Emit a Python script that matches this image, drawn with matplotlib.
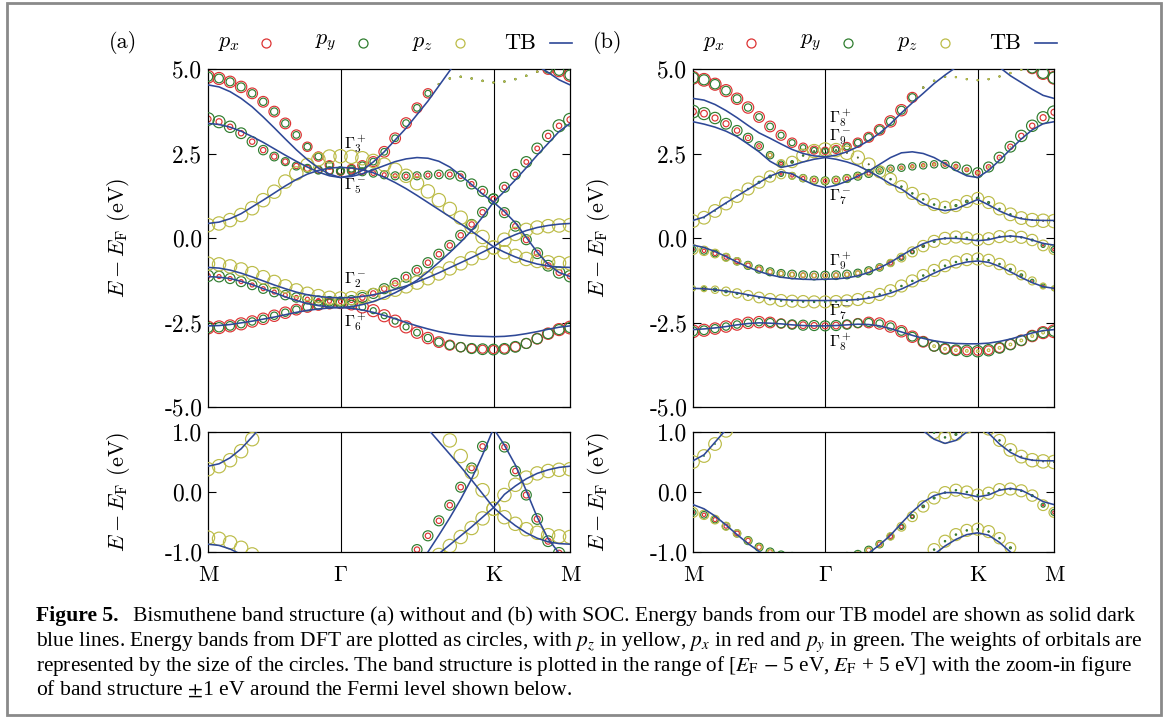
import numpy as np
import matplotlib
matplotlib.use("Agg")
import matplotlib.pyplot as plt
from matplotlib.lines import Line2D
from matplotlib.patches import Rectangle

plt.rcParams["font.family"] = "cmr10"
plt.rcParams["mathtext.fontset"] = "cm"
plt.rcParams["axes.unicode_minus"] = False
plt.rcParams["axes.formatter.use_mathtext"] = True

# k-path M - Gamma - K - M in units of |Gamma M|, sampled with 12 + 14 + 7 steps
k_nodes = [0.0, 1.0, 1.0 + 2 / np.sqrt(3), 1.0 + np.sqrt(3)]
kpts = np.concatenate([np.linspace(k_nodes[0], k_nodes[1], 13),
                       np.linspace(k_nodes[1], k_nodes[2], 15)[1:],
                       np.linspace(k_nodes[2], k_nodes[3], 8)[1:]])
k_labels = ["M", r"$\Gamma$", "K", "M"]

yticks_top = [-5.0, -2.5, 0.0, 2.5, 5.0]
ytick_labels_top = ["-5.0", "-2.5", "0.0", "2.5", "5.0"]
yticks_bot = [-1.0, 0.0, 1.0]
ytick_labels_bot = ["-1.0", "0.0", "1.0"]

# ---------------- (a) without SOC ----------------
tb_a1 = [4.53, 4.47, 4.33, 4.13, 3.88, 3.58, 3.26, 2.93, 2.61, 2.32, 2.07, 1.89, 1.79,
         1.85, 2.0, 2.25, 2.55, 2.9, 3.25, 3.65, 4.05, 4.5, 4.95, 5.4, 5.6, 5.75, 5.8,
         5.7, 5.55, 5.35, 5.1, 4.9, 4.68, 4.53]
tb_a2 = [3.39, 3.36, 3.28, 3.16, 3.0, 2.83, 2.64, 2.45, 2.27, 2.1, 1.95, 1.84, 1.79,
         1.82, 1.9, 2.02, 2.14, 2.26, 2.34, 2.38, 2.36, 2.27, 2.1, 1.85, 1.58, 1.3, 1.06,
         1.38, 1.72, 2.08, 2.45, 2.8, 3.15, 3.39]
tb_a3 = [0.43, 0.47, 0.57, 0.72, 0.92, 1.12, 1.33, 1.54, 1.73, 1.89, 2.0, 2.07, 2.09,
         2.07, 2.02, 1.93, 1.8, 1.64, 1.46, 1.26, 1.05, 0.84, 0.63, 0.42, 0.2, -0.03, -0.26,
         -0.04, 0.1, 0.22, 0.31, 0.37, 0.41, 0.43]
tb_a4 = [-0.87, -0.89, -0.95, -1.04, -1.15, -1.27, -1.39, -1.5, -1.6, -1.68, -1.73, -1.76, -1.77,
         -1.76, -1.73, -1.68, -1.61, -1.52, -1.42, -1.3, -1.17, -1.03, -0.88, -0.73, -0.58, -0.42, -0.26,
         -0.42, -0.56, -0.68, -0.77, -0.83, -0.86, -0.87]
tb_a5 = [-1.14, -1.16, -1.2, -1.28, -1.38, -1.5, -1.62, -1.74, -1.85, -1.94, -2.0, -2.04, -2.06,
         -2.03, -1.97, -1.88, -1.76, -1.62, -1.45, -1.25, -1.0, -0.72, -0.43, -0.12, 0.22, 0.62, 1.06,
         0.78, 0.45, 0.02, -0.42, -0.78, -1.02, -1.14]
tb_a6 = [-2.6, -2.59, -2.56, -2.51, -2.46, -2.4, -2.34, -2.27, -2.2, -2.14, -2.1, -2.07, -2.06,
         -2.08, -2.13, -2.2, -2.29, -2.39, -2.5, -2.6, -2.69, -2.77, -2.83, -2.87, -2.9, -2.91, -2.92,
         -2.91, -2.88, -2.83, -2.77, -2.7, -2.64, -2.6]

dft_a1 = [4.77, 4.72, 4.62, 4.47, 4.28, 4.03, 3.74, 3.39, 3.05, 2.7, 2.41, 2.16, 1.97,
          2.05, 2.15, 2.26, 2.55, 2.95, 3.4, 3.85, 4.28, 4.55, 4.72, 4.77, 4.72, 4.65, 4.6,
          4.63, 4.7, 4.8, 4.92, 5.0, 4.95, 4.82]
dft_a2 = [3.52, 3.44, 3.29, 3.1, 2.85, 2.6, 2.41, 2.26, 2.13, 2.06, 2.01, 1.99, 1.99,
          1.98, 1.96, 1.92, 1.87, 1.84, 1.83, 1.84, 1.86, 1.88, 1.88, 1.83, 1.6, 1.38, 1.16,
          1.5, 1.88, 2.25, 2.65, 3.02, 3.32, 3.5]
dft_a3 = [0.38, 0.43, 0.53, 0.68, 0.88, 1.12, 1.37, 1.67, 1.91, 2.16, 2.33, 2.41, 2.42,
          2.4, 2.36, 2.28, 2.17, 2.02, 1.84, 1.62, 1.38, 1.12, 0.86, 0.6, 0.33, 0.03, -0.28,
          -0.05, 0.12, 0.24, 0.31, 0.35, 0.37, 0.38]
dft_a4 = [-0.76, -0.78, -0.84, -0.93, -1.04, -1.16, -1.3, -1.43, -1.55, -1.65, -1.72, -1.77, -1.79,
          -1.78, -1.75, -1.69, -1.62, -1.53, -1.43, -1.32, -1.19, -1.05, -0.9, -0.75, -0.6, -0.44, -0.28,
          -0.42, -0.53, -0.62, -0.68, -0.72, -0.74, -0.75]
dft_a5 = [-1.12, -1.14, -1.2, -1.29, -1.39, -1.5, -1.6, -1.69, -1.76, -1.81, -1.85, -1.87, -1.88,
          -1.84, -1.76, -1.64, -1.5, -1.34, -1.16, -0.96, -0.73, -0.48, -0.22, 0.08, 0.4, 0.76, 1.15,
          0.75, 0.35, -0.05, -0.45, -0.82, -1.02, -1.13]
dft_a6 = [-2.65, -2.64, -2.6, -2.54, -2.47, -2.39, -2.3, -2.21, -2.12, -2.04, -1.98, -1.94, -1.93,
          -1.96, -2.04, -2.15, -2.3, -2.46, -2.63, -2.8, -2.96, -3.08, -3.17, -3.23, -3.27, -3.29, -3.3,
          -3.28, -3.22, -3.12, -2.98, -2.83, -2.71, -2.65]

# orbital weights (px, py, pz) of the DFT bands, None = no weight
wx_a1 = [0.95, 0.9, 0.85, 0.85, 0.8, 0.8, 0.8, 0.8, 0.75, 0.7, 0.7, 0.65, 0.6,
         0.65, 0.7, 0.75, 0.8, 0.8, 0.8, 0.75, 0.7, 0.08, 0.05, 0.05, 0.05, 0.05, 0.05,
         0.05, 0.05, 0.05, 0.1, 0.8, 0.9, 0.95]
wy_a1 = [0.7, 0.65, 0.6, 0.6, 0.55, 0.55, 0.55, 0.55, 0.5, 0.5, 0.5, 0.5, 0.5,
         0.5, 0.5, 0.5, 0.5, 0.5, 0.5, 0.5, 0.45, 0.1, 0.1, 0.1, 0.1, 0.1, 0.1,
         0.1, 0.1, 0.1, 0.1, 0.6, 0.7, 0.75]
wz_a1 = [0, 0, 0, 0, 0, 0, 0, 0, 0, 0, 0, 0, 0,
         0, 0, 0, 0, 0, 0, 0, 0, 0.08, 0.08, 0.08, 0.08, 0.08, 0.08,
         0.08, 0.08, 0.08, 0.08, 0, 0, 0]
wx_a2 = [0.45, 0.45, 0.4, 0.4, 0.4, 0.4, 0.4, 0.4, 0.4, 0.45, 0.5, 0.5, 0.5,
         0.45, 0.4, 0.35, 0.3, 0.3, 0.3, 0.3, 0.3, 0.3, 0.35, 0.35, 0.35, 0.35, 0.35,
         0.35, 0.35, 0.35, 0.35, 0.4, 0.4, 0.45]
wy_a2 = [0.95, 0.9, 0.85, 0.8, 0.75, 0.7, 0.65, 0.6, 0.6, 0.6, 0.6, 0.6, 0.6,
         0.6, 0.6, 0.6, 0.6, 0.6, 0.6, 0.6, 0.6, 0.65, 0.7, 0.75, 0.75, 0.75, 0.75,
         0.75, 0.75, 0.8, 0.8, 0.85, 0.9, 0.95]
wz_a3 = [1.0, 1.0, 1.0, 1.0, 1.0, 1.0, 1.0, 1.0, 1.0, 1.0, 1.0, 1.0, 1.0,
         1.0, 1.0, 1.0, 1.0, 1.0, 1.0, 1.0, 1.0, 1.0, 1.0, 1.0, 1.0, 1.0, 1.0,
         1.0, 1.0, 1.0, 1.0, 1.0, 1.0, 1.0]
wz_a4 = [1.0, 1.0, 1.0, 1.0, 1.0, 1.0, 1.0, 1.0, 1.0, 1.0, 1.0, 1.0, 1.0,
         1.0, 1.0, 1.0, 1.0, 1.0, 1.0, 1.0, 1.0, 1.0, 1.0, 1.0, 1.0, 1.0, 1.0,
         1.0, 1.0, 1.0, 1.0, 1.0, 1.0, 1.0]
wx_a5 = [0.35, 0.3, 0.3, 0.3, 0.3, 0.3, 0.3, 0.3, 0.3, 0.3, 0.3, 0.3, 0.3,
         0.35, 0.4, 0.4, 0.4, 0.4, 0.4, 0.4, 0.4, 0.4, 0.4, 0.4, 0.4, 0.4, 0.4,
         0.4, 0.4, 0.45, 0.45, 0.45, 0.45, 0.4]
wy_a5 = [0.85, 0.8, 0.75, 0.75, 0.7, 0.7, 0.7, 0.7, 0.7, 0.7, 0.7, 0.7, 0.7,
         0.7, 0.75, 0.75, 0.75, 0.75, 0.75, 0.75, 0.75, 0.75, 0.75, 0.75, 0.75, 0.75, 0.75,
         0.75, 0.75, 0.75, 0.8, 0.8, 0.85, 0.85]
wx_a6 = [0.95, 0.95, 0.9, 0.9, 0.85, 0.85, 0.85, 0.85, 0.8, 0.8, 0.8, 0.8, 0.8,
         0.85, 0.9, 0.9, 0.9, 0.9, 0.9, 0.85, 0.85, 0.8, 0.75, 0.7, 0.65, 0.6, 0.6,
         0.65, 0.7, 0.75, 0.8, 0.85, 0.9, 0.95]
wy_a6 = [0.75, 0.7, 0.65, 0.6, 0.55, 0.55, 0.55, 0.55, 0.55, 0.6, 0.65, 0.7, 0.7,
         0.6, 0.5, 0.45, 0.45, 0.45, 0.45, 0.5, 0.55, 0.6, 0.65, 0.7, 0.75, 0.8, 0.8,
         0.8, 0.8, 0.75, 0.75, 0.75, 0.75, 0.75]

# ---------------- (b) with SOC ----------------
tb_b1 = [4.13, 4.08, 3.95, 3.77, 3.56, 3.33, 3.11, 2.95, 2.78, 2.62, 2.5, 2.43, 2.4,
         2.45, 2.55, 2.7, 2.88, 3.1, 3.38, 3.7, 4.0, 4.28, 4.57, 4.82, 5.05, 5.25, 5.35,
         5.25, 5.05, 4.8, 4.6, 4.4, 4.22, 4.13]
tb_b2 = [3.44, 3.37, 3.28, 3.16, 3.0, 2.78, 2.55, 2.27, 2.09, 2.15, 2.25, 2.33, 2.38,
         2.33, 2.25, 2.14, 1.98, 1.8, 1.6, 1.45, 1.22, 1.02, 0.88, 0.81, 0.86, 1.0, 1.14,
         0.98, 0.8, 0.66, 0.57, 0.53, 0.52, 0.52]
tb_b3 = [0.52, 0.62, 0.83, 1.04, 1.24, 1.44, 1.64, 1.83, 1.96, 1.9, 1.72, 1.57, 1.49,
         1.56, 1.68, 1.83, 1.98, 2.18, 2.38, 2.52, 2.55, 2.5, 2.38, 2.2, 2.0, 1.84, 1.79,
         2.0, 2.3, 2.62, 2.93, 3.2, 3.38, 3.44]
tb_b4 = [-0.21, -0.28, -0.4, -0.55, -0.71, -0.86, -0.99, -1.09, -1.16, -1.2, -1.22, -1.23, -1.22,
         -1.21, -1.18, -1.12, -1.02, -0.88, -0.72, -0.52, -0.33, -0.17, -0.06, -0.01, -0.01, -0.04, -0.08,
         -0.05, 0.03, 0.06, 0.03, -0.06, -0.16, -0.21]
tb_b5 = [-1.49, -1.5, -1.53, -1.57, -1.62, -1.68, -1.74, -1.79, -1.82, -1.84, -1.85, -1.85, -1.85,
         -1.85, -1.84, -1.82, -1.78, -1.72, -1.63, -1.51, -1.36, -1.2, -1.04, -0.9, -0.79, -0.71, -0.68,
         -0.72, -0.84, -1.0, -1.17, -1.32, -1.44, -1.49]
tb_b6 = [-2.71, -2.69, -2.66, -2.62, -2.57, -2.53, -2.51, -2.52, -2.54, -2.57, -2.59, -2.6, -2.6,
         -2.59, -2.57, -2.55, -2.56, -2.6, -2.68, -2.78, -2.88, -2.97, -3.04, -3.09, -3.12, -3.13, -3.13,
         -3.11, -3.06, -2.99, -2.9, -2.81, -2.74, -2.71]

dft_b1 = [4.74, 4.68, 4.55, 4.36, 4.12, 3.86, 3.58, 3.3, 3.04, 2.82, 2.68, 2.6, 2.58,
          2.62, 2.7, 2.82, 2.98, 3.2, 3.45, 3.78, 4.16, 4.45, 4.65, 4.77, 4.76, 4.7, 4.67,
          4.7, 4.78, 4.88, 4.98, 5.02, 4.88, 4.74]
dft_b2 = [3.74, 3.68, 3.55, 3.38, 3.18, 2.96, 2.72, 2.45, 2.2, 2.25, 2.44, 2.57, 2.62,
          2.6, 2.52, 2.38, 2.18, 1.96, 1.74, 1.52, 1.32, 1.14, 0.99, 0.91, 0.96, 1.08, 1.17,
          1.05, 0.86, 0.7, 0.59, 0.53, 0.51, 0.5]
dft_b3 = [0.5, 0.6, 0.8, 1.02, 1.24, 1.45, 1.65, 1.82, 1.89, 1.84, 1.77, 1.71, 1.69,
          1.71, 1.76, 1.83, 1.91, 2.0, 2.05, 2.08, 2.12, 2.15, 2.18, 2.18, 2.12, 2.02, 1.93,
          2.1, 2.38, 2.7, 3.02, 3.32, 3.56, 3.72]
dft_b4 = [-0.34, -0.38, -0.46, -0.57, -0.69, -0.81, -0.92, -1.0, -1.05, -1.08, -1.1, -1.11, -1.11,
          -1.1, -1.08, -1.04, -0.97, -0.87, -0.74, -0.58, -0.41, -0.24, -0.1, -0.01, 0.03, 0.0, -0.05,
          -0.02, 0.04, 0.05, 0.02, -0.06, -0.22, -0.34]
dft_b5 = [-1.49, -1.5, -1.53, -1.58, -1.64, -1.7, -1.76, -1.81, -1.85, -1.87, -1.88, -1.89, -1.89,
          -1.88, -1.86, -1.82, -1.76, -1.67, -1.56, -1.42, -1.27, -1.11, -0.96, -0.82, -0.71, -0.64, -0.62,
          -0.66, -0.77, -0.93, -1.1, -1.27, -1.42, -1.49]
dft_b6 = [-2.76, -2.73, -2.68, -2.62, -2.56, -2.51, -2.49, -2.5, -2.53, -2.56, -2.58, -2.59, -2.6,
          -2.59, -2.56, -2.52, -2.5, -2.53, -2.62, -2.76, -2.92, -3.07, -3.2, -3.28, -3.32, -3.34, -3.35,
          -3.32, -3.25, -3.15, -3.03, -2.9, -2.8, -2.76]

wx_b1 = [0.95, 0.95, 0.9, 0.9, 0.85, 0.85, 0.8, 0.8, 0.75, 0.7, 0.65, 0.6, 0.55,
         0.6, 0.65, 0.7, 0.75, 0.8, 0.85, 0.85, 0.75, 0.08, 0.05, 0.05, 0.05, 0.05, 0.05,
         0.05, 0.05, 0.05, 0.05, 0.8, 0.95, 0.95]
wy_b1 = [0.8, 0.75, 0.7, 0.65, 0.6, 0.55, 0.5, 0.5, 0.45, 0.45, 0.4, 0.4, 0.4,
         0.4, 0.45, 0.5, 0.55, 0.6, 0.6, 0.6, 0.55, 0.1, 0.1, 0.1, 0.08, 0.08, 0.08,
         0.08, 0.08, 0.08, 0.08, 0.7, 0.8, 0.85]
wz_b1 = [0, 0, 0, 0, 0, 0, 0, 0, 0, 0, 0, 0, 0,
         0, 0, 0, 0, 0, 0, 0, 0, 0.06, 0.08, 0.08, 0.08, 0.08, 0.08,
         0.08, 0.08, 0.08, 0.08, 0, 0, 0]
wx_b2 = [0.5, 0.5, 0.45, 0.45, 0.4, 0.4, 0.35, 0.3, 0.2, 0.1, 0.05, 0.05, 0.05,
         0.05, 0.05, 0.05, 0.05, 0.05, 0.05, 0.05, 0.05, 0.05, 0.05, 0.05, 0.05, 0.05, 0.05,
         0.05, 0.05, 0.05, 0.05, 0.05, 0.05, 0.05]
wy_b2 = [0.95, 0.9, 0.85, 0.8, 0.75, 0.7, 0.65, 0.55, 0.4, 0.2, 0.1, 0.05, 0.05,
         0.05, 0.05, 0.05, 0.05, 0.1, 0.1, 0.1, 0.1, 0.1, 0.1, 0.1, 0.15, 0.2, 0.2,
         0.15, 0.1, 0.1, 0.05, 0.05, 0.05, 0.05]
wz_b2 = [0, 0, 0, 0, 0, 0.05, 0.1, 0.3, 0.6, 0.85, 0.95, 1.0, 1.0,
         1.0, 1.0, 1.0, 0.95, 0.9, 0.9, 0.9, 0.9, 0.9, 0.9, 0.9, 0.9, 0.9, 0.9,
         0.9, 0.9, 0.95, 0.95, 1.0, 1.0, 1.0]
wx_b3 = [0, 0, 0, 0, 0, 0, 0.05, 0.1, 0.15, 0.2, 0.25, 0.25, 0.25,
         0.25, 0.25, 0.25, 0.25, 0.25, 0.25, 0.25, 0.25, 0.25, 0.25, 0.3, 0.3, 0.3, 0.35,
         0.35, 0.35, 0.4, 0.4, 0.4, 0.45, 0.45]
wy_b3 = [0.05, 0.05, 0.05, 0.05, 0.05, 0.1, 0.15, 0.2, 0.35, 0.5, 0.55, 0.6, 0.6,
         0.6, 0.6, 0.6, 0.6, 0.55, 0.55, 0.55, 0.55, 0.55, 0.55, 0.6, 0.65, 0.7, 0.75,
         0.75, 0.8, 0.8, 0.85, 0.85, 0.9, 0.95]
wz_b3 = [0.95, 0.95, 0.95, 0.95, 0.95, 0.9, 0.9, 0.85, 0.7, 0.5, 0.5, 0.5, 0.5,
         0.5, 0.5, 0.45, 0.4, 0.3, 0.2, 0.15, 0.15, 0.15, 0.15, 0.15, 0.15, 0.15, 0.15,
         0.1, 0.05, 0.05, 0, 0, 0, 0]
wx_b4 = [0.2, 0.25, 0.3, 0.3, 0.35, 0.35, 0.35, 0.35, 0.35, 0.35, 0.35, 0.35, 0.35,
         0.35, 0.35, 0.35, 0.35, 0.35, 0.3, 0.25, 0.2, 0.1, 0.05, 0.05, 0.05, 0.05, 0.05,
         0.05, 0.05, 0.05, 0.05, 0.05, 0.1, 0.2]
wy_b4 = [0.45, 0.5, 0.5, 0.55, 0.55, 0.6, 0.6, 0.6, 0.6, 0.65, 0.65, 0.65, 0.65,
         0.65, 0.65, 0.6, 0.6, 0.55, 0.5, 0.4, 0.3, 0.2, 0.15, 0.1, 0.1, 0.1, 0.1,
         0.1, 0.1, 0.1, 0.1, 0.15, 0.3, 0.45]
wz_b4 = [0.75, 0.7, 0.65, 0.6, 0.55, 0.5, 0.45, 0.4, 0.35, 0.3, 0.3, 0.3, 0.3,
         0.3, 0.3, 0.35, 0.4, 0.45, 0.55, 0.65, 0.75, 0.85, 0.9, 0.9, 0.9, 0.9, 0.9,
         0.9, 0.9, 0.9, 0.9, 0.85, 0.8, 0.75]
wx_b5 = [0.1, 0.1, 0.1, 0.05, 0.05, 0.05, 0.05, 0.05, 0.05, 0.05, 0.05, 0.05, 0.05,
         0.05, 0.05, 0.05, 0.05, 0.05, 0.05, 0.05, 0.05, 0.05, 0.05, 0.05, 0.05, 0.05, 0.05,
         0.05, 0.05, 0.05, 0.05, 0.05, 0.1, 0.1]
wy_b5 = [0.35, 0.3, 0.25, 0.2, 0.15, 0.1, 0.1, 0.1, 0.1, 0.1, 0.1, 0.1, 0.1,
         0.1, 0.1, 0.1, 0.1, 0.1, 0.1, 0.1, 0.1, 0.1, 0.1, 0.1, 0.1, 0.1, 0.1,
         0.1, 0.1, 0.15, 0.2, 0.25, 0.3, 0.35]
wz_b5 = [0.35, 0.45, 0.55, 0.65, 0.7, 0.75, 0.8, 0.85, 0.9, 0.9, 0.9, 0.9, 0.9,
         0.9, 0.9, 0.9, 0.9, 0.9, 0.9, 0.9, 0.9, 0.9, 0.9, 0.9, 0.9, 0.9, 0.9,
         0.9, 0.85, 0.8, 0.7, 0.6, 0.45, 0.35]
wx_b6 = [0.95, 0.9, 0.85, 0.85, 0.85, 0.85, 0.85, 0.8, 0.7, 0.6, 0.5, 0.45, 0.45,
         0.5, 0.6, 0.7, 0.8, 0.85, 0.85, 0.85, 0.85, 0.8, 0.75, 0.7, 0.65, 0.6, 0.6,
         0.65, 0.7, 0.75, 0.8, 0.85, 0.9, 0.95]
wy_b6 = [0.7, 0.65, 0.6, 0.55, 0.55, 0.55, 0.55, 0.6, 0.65, 0.7, 0.75, 0.75, 0.75,
         0.75, 0.7, 0.65, 0.6, 0.55, 0.55, 0.6, 0.65, 0.7, 0.75, 0.8, 0.8, 0.85, 0.85,
         0.85, 0.8, 0.8, 0.75, 0.75, 0.75, 0.75]
wz_b6 = [0, 0, 0, 0, 0, 0, 0, 0, 0, 0, 0, 0, 0,
         0, 0, 0, 0, 0, 0, 0, 0, 0, 0.2, 0.2, 0.2, 0.2, 0.2,
         0.2, 0.2, 0.2, 0.2, 0.2, 0.2, 0]

gamma_labels_a = [(r"$\Gamma_3^+$", 2.78), (r"$\Gamma_5^-$", 1.52),
                  (r"$\Gamma_2^-$", -1.27), (r"$\Gamma_6^+$", -2.49)]
gamma_labels_b = [(r"$\Gamma_8^+$", 3.55), (r"$\Gamma_9^-$", 2.97), (r"$\Gamma_7^-$", 1.21),
                  (r"$\Gamma_9^+$", -0.68), (r"$\Gamma_7^-$", -2.19), (r"$\Gamma_8^+$", -3.08)]

panel_a = dict(tb=[tb_a1, tb_a2, tb_a3, tb_a4, tb_a5, tb_a6],
               dft=[dft_a1, dft_a2, dft_a3, dft_a4, dft_a5, dft_a6],
               w=[(wx_a1, wy_a1, wz_a1), (wx_a2, wy_a2, None), (None, None, wz_a3),
                  (None, None, wz_a4), (wx_a5, wy_a5, None), (wx_a6, wy_a6, None)],
               gl=gamma_labels_a, tag="(a)", x0=208, width=362, label_dx=76)
panel_b = dict(tb=[tb_b1, tb_b2, tb_b3, tb_b4, tb_b5, tb_b6],
               dft=[dft_b1, dft_b2, dft_b3, dft_b4, dft_b5, dft_b6],
               w=[(wx_b1, wy_b1, wz_b1), (wx_b2, wy_b2, wz_b2), (wx_b3, wy_b3, wz_b3),
                  (wx_b4, wy_b4, wz_b4), (wx_b5, wy_b5, wz_b5), (wx_b6, wy_b6, wz_b6)],
               gl=gamma_labels_b, tag="(b)", x0=693, width=361, label_dx=81)

orb_colors = ["#dd3333", "#2f7d2f", "#bcbc48"]
orb_names = [r"$p_x$", r"$p_y$", r"$p_z$"]
tb_color = "#2e4897"
D_PT = 9.6  # circle diameter (pt) for weight 1

W, H = 1174, 717
fig = plt.figure(figsize=(W / 100, H / 100), dpi=100)


def fx(px):
    return px / W


def fy(py):
    return 1 - py / H


def draw(ax, p, ylim, yt, ytl):
    for orb in range(3):
        for e, w in zip(p["dft"], p["w"]):
            if w[orb] is None:
                continue
            ww = np.asarray(w[orb], float)
            m = ww > 0
            ax.scatter(kpts[m], np.asarray(e)[m], s=(D_PT * ww[m]) ** 2, facecolors="none",
                       edgecolors=orb_colors[orb], linewidths=0.85, zorder=2 + orb)
    for e in p["tb"]:
        ax.plot(kpts, e, color=tb_color, lw=1.15, zorder=6)
    for kn in k_nodes[1:3]:
        ax.axvline(kn, color="k", lw=0.8, zorder=1)
    ax.set_xlim(k_nodes[0], k_nodes[-1])
    ax.set_ylim(*ylim)
    ax.set_yticks(yt)
    ax.set_yticklabels(ytl)
    ax.set_xticks(k_nodes)
    ax.tick_params(axis="y", direction="in", length=6, width=0.8, right=True, labelsize=17, pad=4)
    ax.tick_params(axis="x", length=0, labelsize=16, pad=10)
    for s in ax.spines.values():
        s.set_linewidth(0.9)


for p in (panel_a, panel_b):
    x0, wpx = p["x0"], p["width"]
    ax_t = fig.add_axes([fx(x0), fy(407), wpx / W, 338 / H])
    ax_b = fig.add_axes([fx(x0), fy(552), wpx / W, 120 / H])
    draw(ax_t, p, (-5, 5), yticks_top, ytick_labels_top)
    draw(ax_b, p, (-1, 1), yticks_bot, ytick_labels_bot)
    ax_t.set_xticklabels([])
    ax_b.set_xticklabels(k_labels)
    for ax in (ax_t, ax_b):
        ax.set_ylabel(r"$E - E_{\mathrm{F}}$ (eV)", fontsize=16)
        ax.yaxis.set_label_coords(-p["label_dx"] / wpx, 0.5)
    for txt, ey in p["gl"]:
        ax_t.text(k_nodes[1] + 0.03, ey, txt, fontsize=11.5, ha="left", va="center", zorder=8)

    # legend row above the panel
    ly = 43
    fig.text(fx(x0 - 85), fy(ly), p["tag"], fontsize=16, ha="center", va="center")
    for i in range(3):
        fig.text(fx(x0 + 10 + 97 * i), fy(ly), orb_names[i], fontsize=16, ha="left", va="center")
        fig.add_artist(Line2D([fx(x0 + 58 + 97 * i)], [fy(ly)], marker="o", ms=6.5, mfc="none",
                              mec=orb_colors[i], mew=0.9, transform=fig.transFigure))
    fig.text(fx(x0 + 296), fy(ly), "TB", fontsize=16, ha="left", va="center")
    fig.add_artist(Line2D([fx(x0 + 342), fx(x0 + 364)], [fy(ly), fy(ly)], color=tb_color, lw=1.2,
                          transform=fig.transFigure))

# frame of the figure box
fig.add_artist(Rectangle((fx(7), fy(715)), 1154 / W, 712 / H, transform=fig.transFigure,
                         fill=False, ec="#8a8a8a", lw=2.0))

# caption
cap_font = dict(family="Liberation Serif", va="baseline", math_fontfamily="stix")
caption_lines = [
    "Bismuthene band structure (a) without and (b) with SOC. Energy bands from our TB model are shown as solid dark",
    r"blue lines. Energy bands from DFT are plotted as circles, with $p_z$ in yellow, $p_x$ in red and $p_y$ in green. The weights of orbitals are",
    r"represented by the size of the circles. The band structure is plotted in the range of [$E_{\mathrm{F}}$ $-$ 5 eV, $E_{\mathrm{F}}$ + 5 eV] with the zoom-in figure",
    r"of band structure $\pm$1 eV around the Fermi level shown below.",
]
caption_sizes = [15.6, 15.5, 15.2, 15.6]
baselines = [621, 646, 671, 695]
renderer = fig.canvas.get_renderer()
head = fig.text(fx(36), fy(baselines[0]), "Figure 5.", fontweight="bold", size=15.6, **cap_font)
bb = head.get_window_extent(renderer)
fig.text((bb.x1 + 14) / W, fy(baselines[0]), caption_lines[0], size=caption_sizes[0], **cap_font)
for line, sz, yb in zip(caption_lines[1:], caption_sizes[1:], baselines[1:]):
    fig.text(fx(36), fy(yb), line, size=sz, **cap_font)

fig.savefig("out.png", dpi=100)
